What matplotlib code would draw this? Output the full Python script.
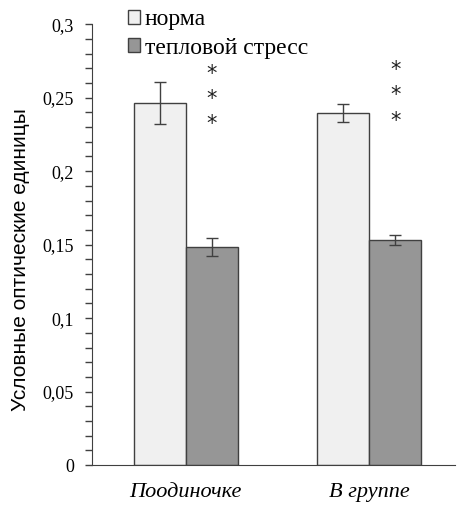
import matplotlib.pyplot as plt
import numpy as np

plt.rcParams['font.family'] = ['Liberation Serif', 'DejaVu Serif']

groups = ['Поодиночке', 'В группе']
series = ['норма', 'тепловой стресс']
norm_vals = [0.2465, 0.2395]
norm_err = [0.0145, 0.006]
stress_vals = [0.1483, 0.1533]
stress_err = [0.0062, 0.0035]
stars_y = [[0.266, 0.249, 0.232], [0.2687, 0.2517, 0.234]]

fig = plt.figure(figsize=(4.57, 5.05), dpi=100)
ax = fig.add_axes([0.201, 0.079, 0.795, 0.873])

x = np.arange(len(groups))
w = 0.284
ekw = dict(ecolor='#404040', elinewidth=1.0, capsize=4, capthick=1.0)
ax.bar(x - w / 2, norm_vals, w, yerr=norm_err, color='#f0f0f0',
       edgecolor='#404040', linewidth=1.0, label=series[0], error_kw=ekw)
ax.bar(x + w / 2, stress_vals, w, yerr=stress_err, color='#969696',
       edgecolor='#404040', linewidth=1.0, label=series[1], error_kw=ekw)

# significance marks
for i, ys in enumerate(stars_y):
    for y in ys:
        ax.text(x[i] + w / 2, y, '*', ha='center', va='center', fontsize=15,
                family='DejaVu Sans', color='#202020')

ax.set_xlim(-0.511, 1.469)
ax.set_ylim(0, 0.3)
ax.set_yticks(np.arange(0, 0.301, 0.05))
ax.set_yticks(np.arange(0, 0.301, 0.01), minor=True)
ax.set_yticklabels(['0', '0,05', '0,1', '0,15', '0,2', '0,25', '0,3'], fontsize=13)
ax.tick_params(axis='y', which='both', direction='out', length=5, width=1,
               color='#404040', pad=8)
ax.set_xticks(x)
ax.set_xticklabels(groups, fontsize=16, style='italic')
ax.tick_params(axis='x', length=0, pad=13)
ax.set_ylabel('Условные оптические единицы', fontsize=15, labelpad=9,
              family='Liberation Sans', y=0.467)

ax.spines['top'].set_visible(False)
ax.spines['right'].set_visible(False)
ax.spines['left'].set_color('#404040')
ax.spines['bottom'].set_color('#404040')

fig.legend(loc='upper left', bbox_to_anchor=(0.26, 1.0), frameon=False,
           fontsize=17, handlelength=0.5, handleheight=0.5, handletextpad=0.2,
           labelspacing=0.3, borderaxespad=0.0)

fig.savefig('out.png', dpi=100)
